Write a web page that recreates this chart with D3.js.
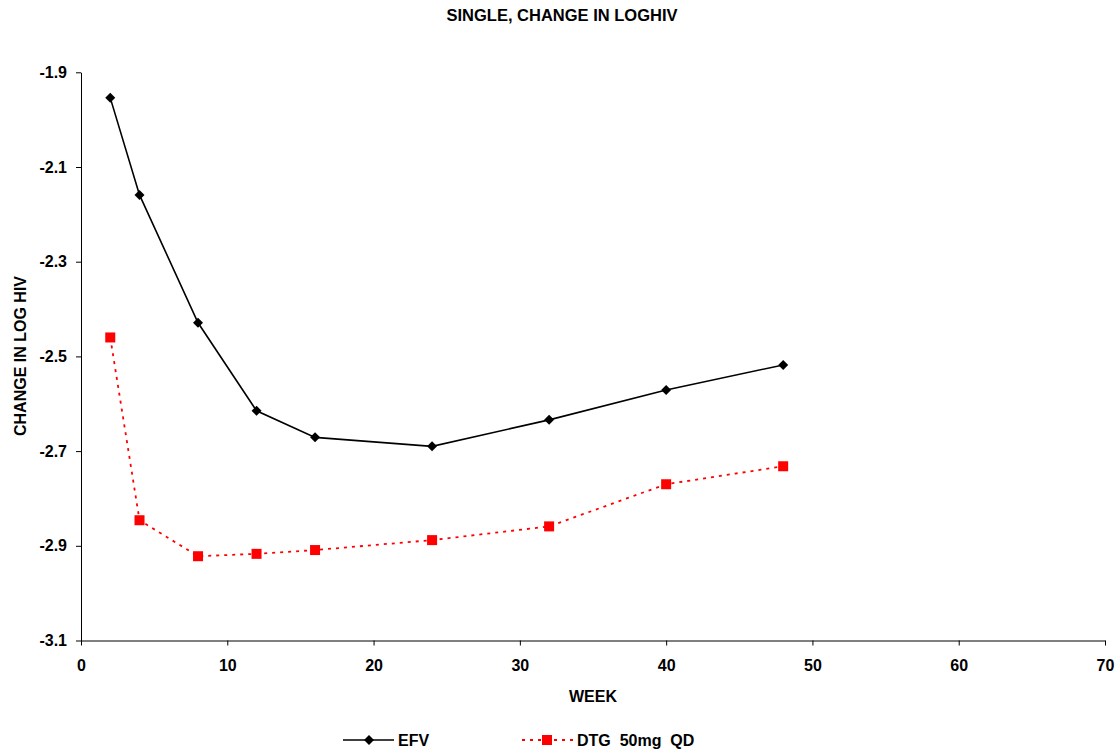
<!DOCTYPE html>
<html><head><meta charset="utf-8">
<script src="https://cdn.jsdelivr.net/npm/d3@7"></script>
<style>body{margin:0;background:#fff;}svg{display:block;font-family:"Liberation Sans",Arial,sans-serif;}</style>
</head><body>
<svg id="c" width="1120" height="753"></svg>
<script>
const weeks = [2, 4, 8, 12, 16, 24, 32, 40, 48];
const efv = [-1.954, -2.159, -2.429, -2.615, -2.671, -2.690, -2.634, -2.571, -2.518];
const dtg = [-2.460, -2.846, -2.922, -2.917, -2.909, -2.888, -2.859, -2.770, -2.732];
const xTicks = [0, 10, 20, 30, 40, 50, 60, 70];
const yTicks = [-1.9, -2.1, -2.3, -2.5, -2.7, -2.9, -3.1];
const seriesNames = ["EFV", "DTG  50mg  QD"];

const FS = 16;
const svg = d3.select("#c");
const x = d3.scaleLinear().domain([0, 70]).range([81, 1105]);
const y = d3.scaleLinear().domain([-3.1, -1.9]).range([640.5, 72.3]);

svg.append("text").attr("x", 562).attr("y", 21).attr("text-anchor", "middle")
  .attr("font-size", 16.5).attr("font-weight", "bold").text("SINGLE, CHANGE IN LOGHIV");

const xa = svg.append("g").attr("transform", `translate(0,${y(-3.1)})`)
  .call(d3.axisBottom(x).tickValues(xTicks).tickSize(5).tickSizeOuter(0).tickPadding(14).tickFormat(d3.format("d")));
const ya = svg.append("g").attr("transform", `translate(${x(0)},0)`)
  .call(d3.axisLeft(y).tickValues(yTicks).tickSize(5).tickSizeOuter(0).tickPadding(9).tickFormat(d => d.toFixed(1)));
[xa, ya].forEach(a => {
  a.selectAll("path,line").attr("stroke", "#000").attr("stroke-width", 1);
  a.selectAll("text").attr("font-size", FS).attr("font-weight", "bold").attr("fill", "#000")
    .attr("font-family", '"Liberation Sans",Arial,sans-serif');
});

svg.append("text").attr("x", 593).attr("y", 702).attr("text-anchor", "middle")
  .attr("font-size", FS).attr("font-weight", "bold").text("WEEK");
svg.append("text").attr("transform", `translate(26,${356}) rotate(-90)`).attr("text-anchor", "middle")
  .attr("font-size", FS).attr("font-weight", "bold").text("CHANGE IN LOG HIV");

const line = d3.line().x(d => x(d[0])).y(d => y(d[1]));
const efvPts = weeks.map((w, i) => [w, efv[i]]);
const dtgPts = weeks.map((w, i) => [w, dtg[i]]);

svg.append("path").datum(efvPts).attr("d", line).attr("fill", "none").attr("stroke", "#000").attr("stroke-width", 1.6);
svg.append("path").datum(dtgPts).attr("d", line).attr("fill", "none").attr("stroke", "#ff0000")
  .attr("stroke-width", 1.8).attr("stroke-dasharray", "3,5");

svg.selectAll(".efvm").data(efvPts).join("path")
  .attr("transform", d => `translate(${x(d[0])},${y(d[1])}) rotate(45)`)
  .attr("d", d3.symbol().type(d3.symbolSquare).size(50)).attr("fill", "#000");
svg.selectAll(".dtgm").data(dtgPts).join("rect")
  .attr("x", d => x(d[0]) - 5).attr("y", d => y(d[1]) - 5).attr("width", 10).attr("height", 10).attr("fill", "#ff0000");

// legend
const ly = 740;
const lg = svg.append("g");
lg.append("line").attr("x1", 343).attr("x2", 394).attr("y1", ly).attr("y2", ly).attr("stroke", "#000").attr("stroke-width", 1.6);
lg.append("path").attr("transform", `translate(369,${ly}) rotate(45)`).attr("d", d3.symbol().type(d3.symbolSquare).size(50)).attr("fill", "#000");
lg.append("text").attr("x", 398).attr("y", 746).attr("font-size", FS).attr("font-weight", "bold").text(seriesNames[0]);
lg.append("line").attr("x1", 522).attr("x2", 573).attr("y1", ly).attr("y2", ly).attr("stroke", "#ff0000").attr("stroke-width", 1.8).attr("stroke-dasharray", "3,5");
lg.append("rect").attr("x", 542).attr("y", ly - 5).attr("width", 10).attr("height", 10).attr("fill", "#ff0000");
lg.append("text").attr("x", 577).attr("y", 746).attr("font-size", FS).attr("font-weight", "bold").style("white-space", "pre").text(seriesNames[1]);
</script>
</body></html>
